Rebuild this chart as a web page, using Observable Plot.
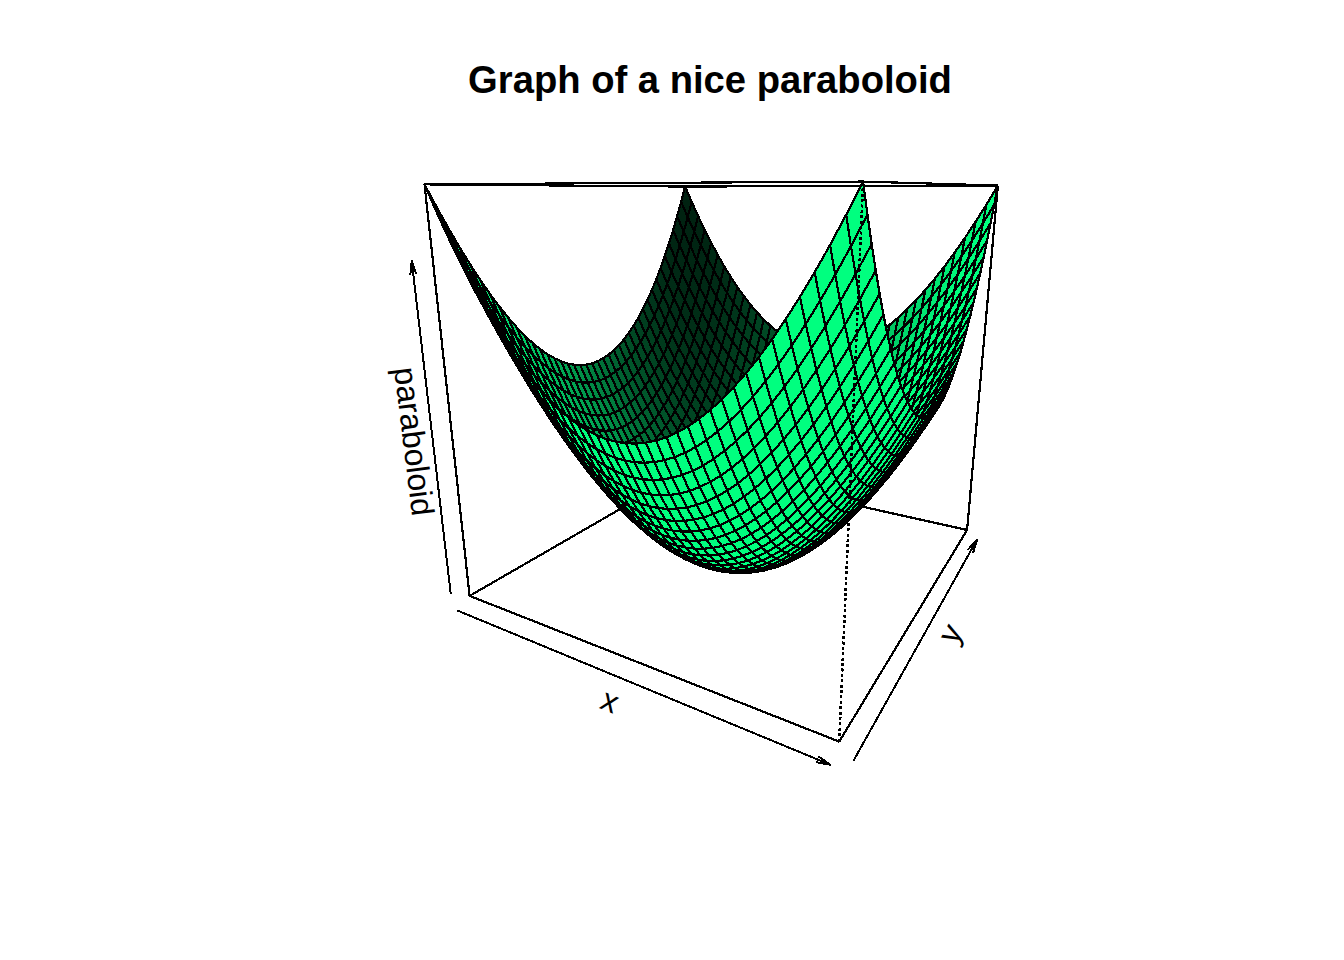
<!DOCTYPE html>
<html><head><meta charset="utf-8">
<script src="https://cdn.jsdelivr.net/npm/d3@7"></script>
<script src="https://cdn.jsdelivr.net/npm/@observablehq/plot@0.6"></script>
<style>html,body{margin:0;background:#fff}svg{display:block}</style>
</head><body><div id="c"></div>
<script>
const xValues=[-10,-9.5,-9,-8.5,-8,-7.5,-7,-6.5,-6,-5.5,-5,-4.5,-4,-3.5,-3,-2.5,-2,-1.5,-1,-0.5,0,0.5,1,1.5,2,2.5,3,3.5,4,4.5,5,5.5,6,6.5,7,7.5,8,8.5,9,9.5,10];
const yValues=[-10,-9.5,-9,-8.5,-8,-7.5,-7,-6.5,-6,-5.5,-5,-4.5,-4,-3.5,-3,-2.5,-2,-1.5,-1,-0.5,0,0.5,1,1.5,2,2.5,3,3.5,4,4.5,5,5.5,6,6.5,7,7.5,8,8.5,9,9.5,10];
const xHeight=[100,90.25,81,72.25,64,56.25,49,42.25,36,30.25,25,20.25,16,12.25,9,6.25,4,2.25,1,0.25,0,0.25,1,2.25,4,6.25,9,12.25,16,20.25,25,30.25,36,42.25,49,56.25,64,72.25,81,90.25,100];
const yHeight=[100,90.25,81,72.25,64,56.25,49,42.25,36,30.25,25,20.25,16,12.25,9,6.25,4,2.25,1,0.25,0,0.25,1,2.25,4,6.25,9,12.25,16,20.25,25,30.25,36,42.25,49,56.25,64,72.25,81,90.25,100];
const zMax=200;
const titleText="Graph of a nice paraboloid";
const labels=[{t:"x",w:[0.12,-1.255,-1],r:22.6},{t:"y",w:[1.185,-0.114,-1],r:-61},{t:"paraboloid",w:[-1.225,-1.05,-0.2],r:83}];
// camera of the perspective box: theta, phi, eye distance, scale, centre
const view={theta:29.966,phi:15.093,dist:3.7402,scale:722.835,cx:739.87,cy:385.06};
const shadeExp=0.72;
const light=[-0.7071,0.7071,0];
const tr=view.theta*Math.PI/180,fr=view.phi*Math.PI/180;
const ct=Math.cos(tr),st=Math.sin(tr),cf=Math.cos(fr),sf=Math.sin(fr);
function pj(X,Y,Z){const R=X*ct+Y*st,h=X*st-Y*ct,C=h*cf+Z*sf,U=Z*cf-h*sf,k=view.scale/(view.dist-C);return [view.cx+k*R,view.cy-k*U,C];}
const n=xValues.length;
const W=(a,b)=>[xValues[a]/10,yValues[b]/10,-1+2*(xHeight[a]+yHeight[b])/zMax];
const faces=[];
for(let i=0;i<n-1;i++)for(let j=0;j<n-1;j++){
 const cs=[[i,j],[i+1,j],[i+1,j+1],[i,j+1]].map(([a,b])=>W(a,b));
 const u=[0,1,2].map(k=>cs[2][k]-cs[0][k]),v=[0,1,2].map(k=>cs[3][k]-cs[1][k]);
 let nn=[u[1]*v[2]-u[2]*v[1],u[2]*v[0]-u[0]*v[2],u[0]*v[1]-u[1]*v[0]];const m=Math.hypot(...nn);nn=nn.map(a=>a/m);
 const d=nn[0]*light[0]+nn[1]*light[1]+nn[2]*light[2];
 const s=Math.min(1,Math.pow(1+d,shadeExp));
 faces.push({cs,col:`rgb(0,${Math.round(255*s)},${Math.round(127*s)})`,depth:d3.mean(cs,c=>pj(...c)[2]),id:i*100+j});
}
faces.sort((a,b)=>a.depth-b.depth);
const pts=[];
for(const f of faces)for(const c of [...f.cs,f.cs[0]]){const q=pj(...c);pts.push({x:q[0],y:q[1],id:f.id,col:f.col});}
const edge=(a,b)=>{const p=pj(...a),q=pj(...b);return {x1:p[0],y1:p[1],x2:q[0],y2:q[1]};};
const solid=[edge([-1,-1,-1],[1,-1,-1]),edge([1,-1,-1],[1,1,-1]),edge([1,1,-1],[-1,1,-1]),edge([-1,1,-1],[-1,-1,-1]),
 edge([-1,-1,-1],[-1,-1,1]),edge([1,1,-1],[1,1,1]),edge([-1,1,-1],[-1,1,1]),edge([-1,-1,1],[-1,1,1]),edge([-1,1,1],[1,1,1])];
const front=[edge([-1,-1,1],[1,-1,1]),edge([1,-1,1],[1,1,1])];
const dotted=[edge([1,-1,-1],[1,-1,1])];
const arrows=[edge([-0.94,-1.12,-1],[1.015,-1.12,-1]),edge([1.08,-1.056,-1],[1.08,0.905,-1]),edge([-1.105,-1.03,-1],[-1.105,-1.03,0.67])];
const labelPts=labels.map(d=>{const q=pj(...d.w);return {t:d.t,r:d.r,x:q[0],y:q[1]};});
const lw=2.2;
const plot=Plot.plot({width:1344,height:960,margin:0,x:{domain:[0,1344],range:[0,1344],axis:null},y:{domain:[0,960],range:[0,960],axis:null},color:{type:"identity"},
 marks:[
  Plot.link(solid,{x1:"x1",y1:"y1",x2:"x2",y2:"y2",stroke:"black",strokeWidth:lw,shapeRendering:"crispEdges"}),
  Plot.line(pts,{x:"x",y:"y",z:"id",fill:"col",stroke:"black",strokeWidth:lw,strokeLinejoin:"miter",shapeRendering:"crispEdges"}),
  Plot.link(front,{x1:"x1",y1:"y1",x2:"x2",y2:"y2",stroke:"black",strokeWidth:lw,shapeRendering:"crispEdges"}),
  Plot.link(dotted,{x1:"x1",y1:"y1",x2:"x2",y2:"y2",stroke:"black",strokeWidth:2.5,strokeDasharray:"3,2.4",shapeRendering:"crispEdges"}),
  Plot.arrow(arrows,{x1:"x1",y1:"y1",x2:"x2",y2:"y2",stroke:"black",strokeWidth:2,bend:0,headAngle:25,headLength:10,shapeRendering:"crispEdges"}),
  Plot.text(labelPts,{x:"x",y:"y",text:"t",rotate:"r",fontSize:32,fontFamily:"Liberation Sans",fill:"black"}),
  Plot.text([titleText],{x:()=>709.5,y:()=>80,fontSize:38.2,fontWeight:"bold",fontFamily:"Liberation Sans",fill:"black"})
 ]});
document.getElementById("c").append(plot);
</script></body></html>
